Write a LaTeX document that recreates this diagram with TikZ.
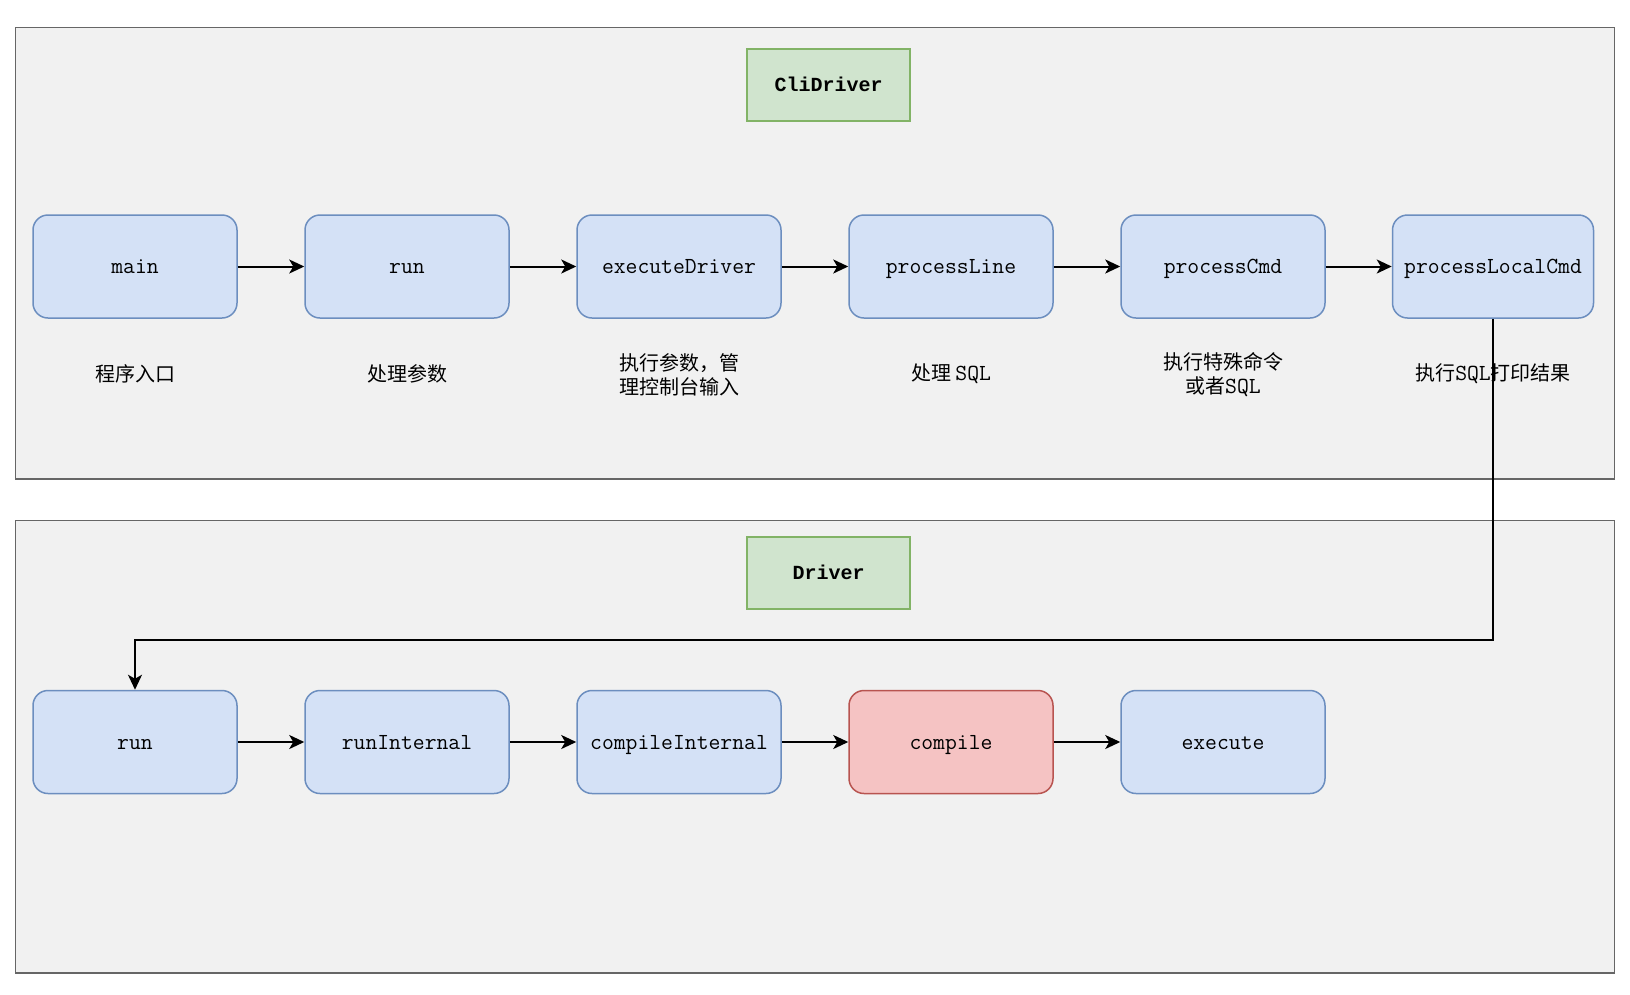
\documentclass[tikz,border=0pt]{standalone}
\usepackage{fontspec}
\newfontfamily\cjk{Noto Sans CJK SC}
\newfontfamily\headfont{Liberation Mono}
\usepackage{tikz}
\usetikzlibrary{arrows.meta}

\definecolor{framefill}{HTML}{F1F1F1}
\definecolor{frameline}{HTML}{666666}
\definecolor{titlefill}{HTML}{D0E4CE}
\definecolor{titleline}{HTML}{82B366}
\definecolor{funcfill}{HTML}{D4E1F6}
\definecolor{funcline}{HTML}{6C8EBF}
\definecolor{hotfill}{HTML}{F5C3C3}
\definecolor{hotline}{HTML}{B85450}

\newcommand{\sqltext}{{\fontsize{23}{24}\selectfont\ttfamily SQL}}

\begin{document}
\begin{tikzpicture}[x=1pt, y=-1pt,
  frame/.style={draw=frameline, fill=framefill, line width=1.5pt},
  title/.style={draw=titleline, fill=titlefill, line width=1.5pt,
    minimum width=163pt, minimum height=72pt, text height=15pt, text depth=3pt,
    font=\fontsize{20}{24}\selectfont\headfont\bfseries},
  func/.style={draw=funcline, fill=funcfill, line width=1.5pt,
    rounded corners=15pt, minimum width=204pt, minimum height=103pt,
    text height=17pt, text depth=3pt,
    font=\fontsize{23}{27}\selectfont\ttfamily},
  hot/.style={func, draw=hotline, fill=hotfill},
  note/.style={align=center, font=\fontsize{20}{24}\selectfont\cjk},
  call/.style={-{Stealth[length=15pt, width=14pt, inset=4pt]}, line width=2pt}]

\useasboundingbox (0,0) rectangle (1630,994);

\draw[frame] (15.5,27.5) rectangle (1614.5,479);
\draw[frame] (15.5,520.5) rectangle (1614.5,973);

\node[title] (cli) at (828.5,85) {CliDriver};
\node[title] (drv) at (828.5,573) {Driver};

\node[func] (main) at (135,266.5) {main};
\node[func] (run) at (407,266.5) {run};
\node[func] (exe) at (679,266.5) {executeDriver};
\node[func] (line) at (951,266.5) {processLine};
\node[func] (cmd) at (1223,266.5) {processCmd};
\node[func, minimum width=201pt] (plc) at (1493,266.5) {processLocalCmd};

\node[note] (mainnote) at (135,374) {程序入口};
\node[note] (runnote) at (407,374) {处理参数};
\node[note] (exenote) at (679,375) {执行参数，管\\理控制台输入};
\node[note] (linenote) at (951,374) {处理\ \sqltext};
\node[note] (cmdnote) at (1223,375) {执行特殊命令\\或者\sqltext};
\node[note] (plcnote) at (1493,374) {执行\sqltext 打印结果};

\node[func] (drun) at (135,742) {run};
\node[func] (runint) at (407,742) {runInternal};
\node[func] (compint) at (679,742) {compileInternal};
\node[hot] (comp) at (951,742) {compile};
\node[func] (exec) at (1223,742) {execute};

\draw[call] (main) -- (run);
\draw[call] (run) -- (exe);
\draw[call] (exe) -- (line);
\draw[call] (line) -- (cmd);
\draw[call] (cmd) -- (plc);

\coordinate (bend) at (0,640);
\draw[call] (plc.south) -- (plc.south |- bend) -| (drun.north);

\draw[call] (drun) -- (runint);
\draw[call] (runint) -- (compint);
\draw[call] (compint) -- (comp);
\draw[call] (comp) -- (exec);

\end{tikzpicture}
\end{document}
